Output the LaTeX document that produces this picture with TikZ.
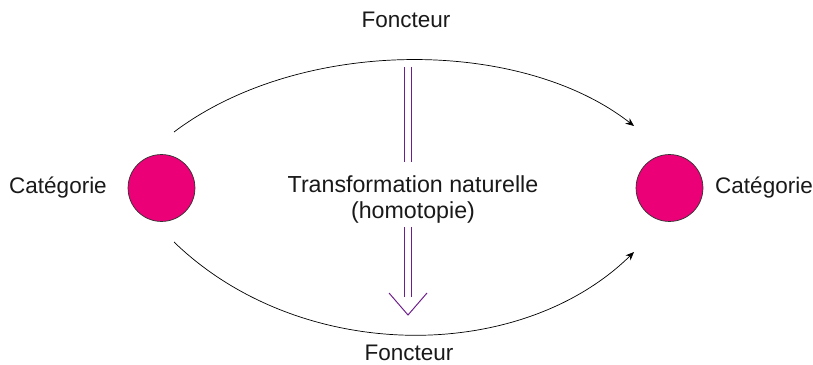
\documentclass[tikz,border=0pt]{standalone}
\usepackage{fontspec}
\setmainfont{Liberation Sans}
\usetikzlibrary{arrows.meta}
\definecolor{catpink}{RGB}{236,0,120}
\definecolor{natpurple}{RGB}{110,30,140}
\tikzset{
  cat/.style={circle, draw=black!80, line width=0.5pt, fill=catpink, minimum size=47.6pt, inner sep=0pt},
  lbl/.style={font=\fontsize{16}{18}\selectfont, text=black!90, inner sep=0pt},
  fleche/.style={line width=0.5pt, -{Stealth[length=6pt,width=5pt]}},
  nat/.style={draw=natpurple, line width=0.7pt, double=white, double distance=4.4pt}
}
\begin{document}
\begin{tikzpicture}[x=0.025cm, y=-0.025cm]
\useasboundingbox (0,0) rectangle (813,365);
\node[cat] (lcat) at (161.5,188) {};
\node[cat] (rcat) at (669.5,188) {};
\node[lbl] (llbl) at (58,188) {Catégorie};
\node[lbl] (rlbl) at (764,188) {Catégorie};
\node[lbl] (ftop) at (406,20) {Foncteur};
\node[lbl] (fbot) at (409,353) {Foncteur};
\node[lbl, align=center, font=\fontsize{16.5}{17.8}\selectfont] (trans) at (413,199.5) {Transformation naturelle\\(homotopie)};
% bouts des foncteurs
\coordinate (ta) at (174,132);
\coordinate (tb) at (634,126);
\coordinate (ba) at (174,242);
\coordinate (bb) at (634,252);
\draw[fleche] (ta) .. controls (300,37) and (520,37) .. (tb);
\draw[fleche] (ba) .. controls (300,364) and (520,364) .. (bb);
% transformation naturelle
\coordinate (nt) at (408,67);
\coordinate (nm) at (408,162);
\coordinate (nr) at (408,227);
\coordinate (nb) at (408,315);
\draw[nat] (nt) -- (nm);
\draw[nat] (nr) -- (408,297);
\draw[natpurple, line width=0.7pt] (nb) ++(-19,-22) -- (nb) -- ++(19,-22);
\end{tikzpicture}
\end{document}
